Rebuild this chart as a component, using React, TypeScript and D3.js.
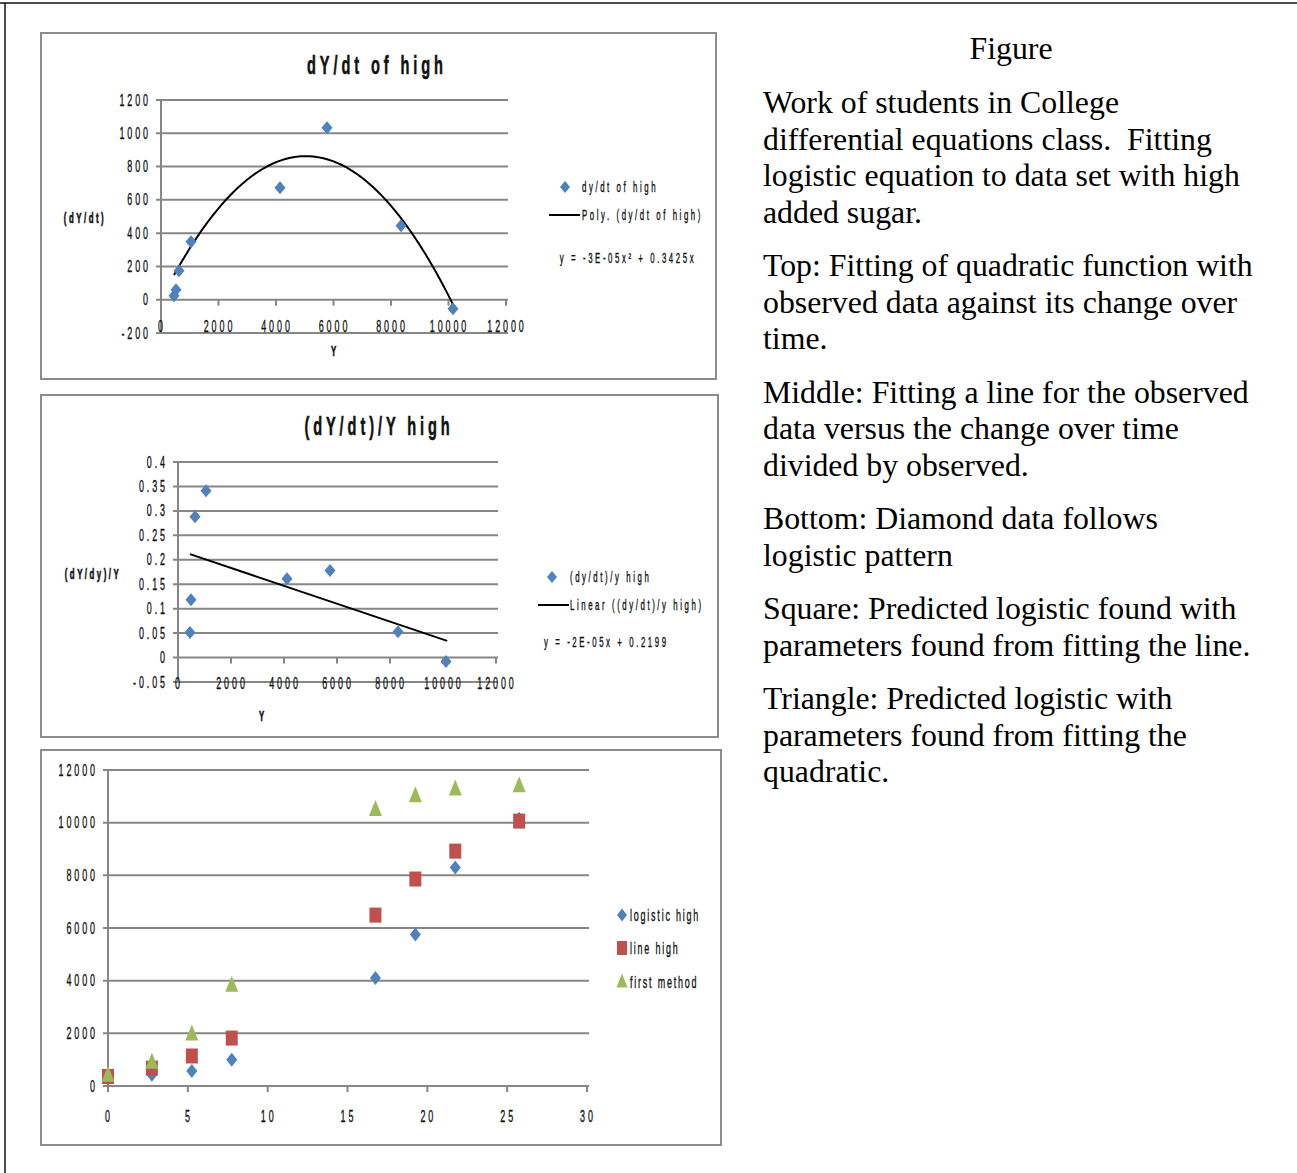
import React, { useEffect, useRef } from 'react'
import * as d3 from 'd3'

// top chart: observed Y against dY/dt
const obsY = [452, 522, 626, 1043, 4139, 5774, 8348, 10157]
const obsRate = [24, 60, 174, 348, 673, 1034, 445, -54]
const quadA = -3.4e-5
const quadB = 0.3425

// middle chart: Y against (dY/dt)/Y
const midY = [453, 490, 641, 1057, 4113, 5736, 8302, 10113]
const midRatio = [0.051, 0.118, 0.288, 0.341, 0.161, 0.178, 0.053, -0.008]
const linM = -1.83e-5
const linB = 0.2199

// bottom chart: time against Y for the three series
const times = [0, 2.75, 5.25, 7.75, 16.75, 19.25, 21.75, 25.75]
const logisticHigh = [350, 430, 570, 1000, 4100, 5750, 8300, 10150]
const lineHigh = [360, 680, 1140, 1820, 6490, 7860, 8920, 10060]
const firstMethod = [400, 900, 1970, 3820, 10500, 11020, 11270, 11400]

const yearTicks = [0, 2000, 4000, 6000, 8000, 10000, 12000]
const rateTicks = [-200, 0, 200, 400, 600, 800, 1000, 1200]
const ratioTicks = [-0.05, 0, 0.05, 0.1, 0.15, 0.2, 0.25, 0.3, 0.35, 0.4]
const timeTicks = [0, 5, 10, 15, 20, 25, 30]
const bigTicks = [0, 2000, 4000, 6000, 8000, 10000, 12000]

const paragraphs = [
  ['Work of students in College', 'differential equations class.  Fitting', 'logistic equation to data set with high', 'added sugar.'],
  ['Top: Fitting of quadratic function with', 'observed data against its change over', 'time.'],
  ['Middle: Fitting a line for the observed', 'data versus the change over time', 'divided by observed.'],
  ['Bottom: Diamond data follows', 'logistic pattern'],
  ['Square: Predicted logistic found with', 'parameters found from fitting the line.'],
  ['Triangle: Predicted logistic with', 'parameters found from fitting the', 'quadratic.'],
]

const SANS = '"Liberation Sans", Arial, sans-serif'
const SERIF = '"Liberation Serif", "Times New Roman", serif'
const SX = 0.56 // squeeze the chart text like the original narrow font
const GRID = '#868686'
const BLUE = '#4f81bd'
const RED = '#c0504d'
const GREEN = '#9bbb59'

const diamond = (w, h) => `M0,${-h}L${w},0L0,${h}L${-w},0Z`
const triangle = (w, h) => `M0,${-h * 0.6}L${w},${h * 0.4}L${-w},${h * 0.4}Z`

function frame(svg, x, y, w, h) {
  svg.append('rect')
    .attr('x', x).attr('y', y).attr('width', w).attr('height', h)
    .attr('fill', 'white').attr('stroke', '#8c8c8c').attr('stroke-width', 2)
}

function txt(g, x, y, s, size, opts: any = {}) {
  return g.append('text')
    .attr('transform', `translate(${x},${y}) scale(${SX},1)`)
    .attr('font-family', SANS)
    .attr('font-size', size)
    .attr('font-weight', opts.bold ? 'bold' : 'normal')
    .attr('letter-spacing', opts.ls ?? 5.2)
    .attr('text-anchor', opts.anchor ?? 'start')
    .attr('fill', '#111')
    .attr('stroke', '#111')
    .attr('stroke-width', opts.bold ? 0.6 : 0.35)
    .text(s)
}

function axes(g, x, y, xTicks, yTicks, fmtY, xLabelY) {
  const [x0, x1] = x.range()
  const [yb, yt] = y.range()

  g.append('g') // gridlines
    .selectAll('line')
    .data(yTicks)
    .join('line')
    .attr('x1', x0 - 5)
    .attr('x2', x1 + 2)
    .attr('y1', d => y(d))
    .attr('y2', d => y(d))
    .attr('stroke', GRID)
    .attr('stroke-width', 2)

  g.append('line') // y axis
    .attr('x1', x0).attr('x2', x0).attr('y1', yt).attr('y2', yb)
    .attr('stroke', GRID).attr('stroke-width', 2)

  const y0 = y(Math.max(0, y.domain()[0]))
  g.append('g') // x ticks
    .selectAll('line')
    .data(xTicks)
    .join('line')
    .attr('x1', d => x(d))
    .attr('x2', d => x(d))
    .attr('y1', y0)
    .attr('y2', y0 + 6)
    .attr('stroke', GRID)
    .attr('stroke-width', 2)

  yTicks.forEach(d => txt(g, x0 - 10, y(d) + 5.5, fmtY(d), 16, { anchor: 'end' }))
  xTicks.forEach(d => txt(g, x(d) + 1, xLabelY + 0.5, String(d), 16, { anchor: 'middle' }))
}

const App = () => {
  const ref = useRef(null)

  useEffect(() => {
    const svg = d3.select(ref.current)
    svg.selectAll('*').remove()

    // page borders
    svg.append('line').attr('x1', 0).attr('x2', 1297).attr('y1', 3).attr('y2', 3).attr('stroke', '#111').attr('stroke-width', 1.5)
    svg.append('line').attr('x1', 5).attr('x2', 5).attr('y1', 3).attr('y2', 1173).attr('stroke', '#111').attr('stroke-width', 1.5)

    // ---- top chart
    frame(svg, 41, 33, 675, 346)
    const g1 = svg.append('g')
    const x1 = d3.scaleLinear().domain([0, 12000]).range([161, 506])
    const y1 = d3.scaleLinear().domain([-200, 1200]).range([333, 100])
    axes(g1, x1, y1, yearTicks, rateTicks, d => String(d), 331)
    txt(g1, 377, 74, 'dY/dt of high', 26, { bold: true, anchor: 'middle', ls: 7 })
    txt(g1, 85, 223, '(dY/dt)', 14, { bold: true, anchor: 'middle', ls: 4.5 })
    txt(g1, 335, 356, 'Y', 14, { bold: true, anchor: 'middle' })

    const quad = d3.range(obsY[0], obsY[obsY.length - 1] + 1, 50).map(v => [v, quadA * v * v + quadB * v])
    g1.append('path')
      .attr('d', d3.line().x(d => x1(d[0])).y(d => y1(d[1]))(quad))
      .attr('fill', 'none').attr('stroke', '#000').attr('stroke-width', 2)

    g1.append('g')
      .selectAll('path')
      .data(obsY)
      .join('path')
      .attr('d', diamond(5.5, 6.5))
      .attr('transform', (d, i) => `translate(${x1(d)},${y1(obsRate[i])})`)
      .attr('fill', BLUE)

    g1.append('path').attr('d', diamond(5, 6)).attr('transform', 'translate(565,187)').attr('fill', BLUE)
    txt(g1, 582, 192, 'dy/dt of high', 14, { ls: 4.6 })
    g1.append('line').attr('x1', 549).attr('x2', 580).attr('y1', 215).attr('y2', 215).attr('stroke', '#000').attr('stroke-width', 2)
    txt(g1, 582, 220, 'Poly. (dy/dt of high)', 14, { ls: 4.6 })
    txt(g1, 628, 263, 'y = -3E-05x² + 0.3425x', 14, { anchor: 'middle', ls: 4.6 })

    // ---- middle chart
    frame(svg, 41, 395, 677, 342)
    const g2 = svg.append('g')
    const x2 = d3.scaleLinear().domain([0, 12000]).range([178, 496])
    const y2 = d3.scaleLinear().domain([-0.05, 0.4]).range([682, 462])
    axes(g2, x2, y2, yearTicks, ratioTicks, d => String(+d.toFixed(2)), 688)
    txt(g2, 379, 435, '(dY/dt)/Y high', 26, { bold: true, anchor: 'middle', ls: 7 })
    txt(g2, 93, 579, '(dY/dy)/Y', 14, { bold: true, anchor: 'middle', ls: 4.5 })
    txt(g2, 263, 721, 'Y', 14, { bold: true, anchor: 'middle' })

    const lx = [obsY[0], obsY[obsY.length - 1]]
    g2.append('line')
      .attr('x1', x2(lx[0])).attr('y1', y2(linM * lx[0] + linB))
      .attr('x2', x2(lx[1])).attr('y2', y2(linM * lx[1] + linB))
      .attr('stroke', '#000').attr('stroke-width', 2)

    g2.append('g')
      .selectAll('path')
      .data(midY)
      .join('path')
      .attr('d', diamond(5.5, 6.5))
      .attr('transform', (d, i) => `translate(${x2(d)},${y2(midRatio[i])})`)
      .attr('fill', BLUE)

    g2.append('path').attr('d', diamond(5, 6)).attr('transform', 'translate(552,577)').attr('fill', BLUE)
    txt(g2, 570, 582, '(dy/dt)/y high', 14, { ls: 4.6 })
    g2.append('line').attr('x1', 538).attr('x2', 569).attr('y1', 605).attr('y2', 605).attr('stroke', '#000').attr('stroke-width', 2)
    txt(g2, 570, 610, 'Linear ((dy/dt)/y high)', 14, { ls: 4.6 })
    txt(g2, 544, 647, 'y = -2E-05x + 0.2199', 14, { ls: 4.6 })

    // ---- bottom chart
    frame(svg, 41, 750, 680, 395)
    const g3 = svg.append('g')
    const x3 = d3.scaleLinear().domain([0, 30]).range([108, 587])
    const y3 = d3.scaleLinear().domain([0, 12000]).range([1086, 770])
    axes(g3, x3, y3, timeTicks, bigTicks, d => String(d), 1121)

    g3.append('g')
      .selectAll('path')
      .data(times)
      .join('path')
      .attr('d', diamond(5.5, 7))
      .attr('transform', (d, i) => `translate(${x3(d)},${y3(logisticHigh[i])})`)
      .attr('fill', BLUE)

    g3.append('g')
      .selectAll('rect')
      .data(times)
      .join('rect')
      .attr('x', d => x3(d) - 6)
      .attr('y', (d, i) => y3(lineHigh[i]) - 7.5)
      .attr('width', 12)
      .attr('height', 15)
      .attr('fill', RED)

    g3.append('g')
      .selectAll('path')
      .data(times)
      .join('path')
      .attr('d', triangle(6.5, 16))
      .attr('transform', (d, i) => `translate(${x3(d)},${y3(firstMethod[i])})`)
      .attr('fill', GREEN)

    g3.append('path').attr('d', diamond(5, 6.5)).attr('transform', 'translate(622,915)').attr('fill', BLUE)
    txt(g3, 630, 921, 'logistic high', 16, { ls: 3.2 })
    g3.append('rect').attr('x', 617).attr('y', 941).attr('width', 10).attr('height', 14).attr('fill', RED)
    txt(g3, 630, 954, 'line high', 16, { ls: 3.2 })
    g3.append('path').attr('d', triangle(5.5, 14)).attr('transform', 'translate(622,982)').attr('fill', GREEN)
    txt(g3, 630, 988, 'first method', 16, { ls: 3.2 })

    // ---- caption text
    const cap = svg.append('g').attr('font-family', SERIF).attr('font-size', 31.8).attr('fill', '#000')
    cap.append('text').attr('x', 1011).attr('y', 59).attr('text-anchor', 'middle').text('Figure')
    let base = 113
    paragraphs.forEach(lines => {
      lines.forEach(line => {
        cap.append('text').attr('x', 763).attr('y', base).style('white-space', 'pre').text(line)
        base += 36.5
      })
      base += 17
    })
  }, [])

  return (
    <div style={{ position: 'absolute', left: 0, top: 0 }}>
      <svg ref={ref} width={1297} height={1173} style={{ display: 'block' }} />
    </div>
  )
}

export default App
